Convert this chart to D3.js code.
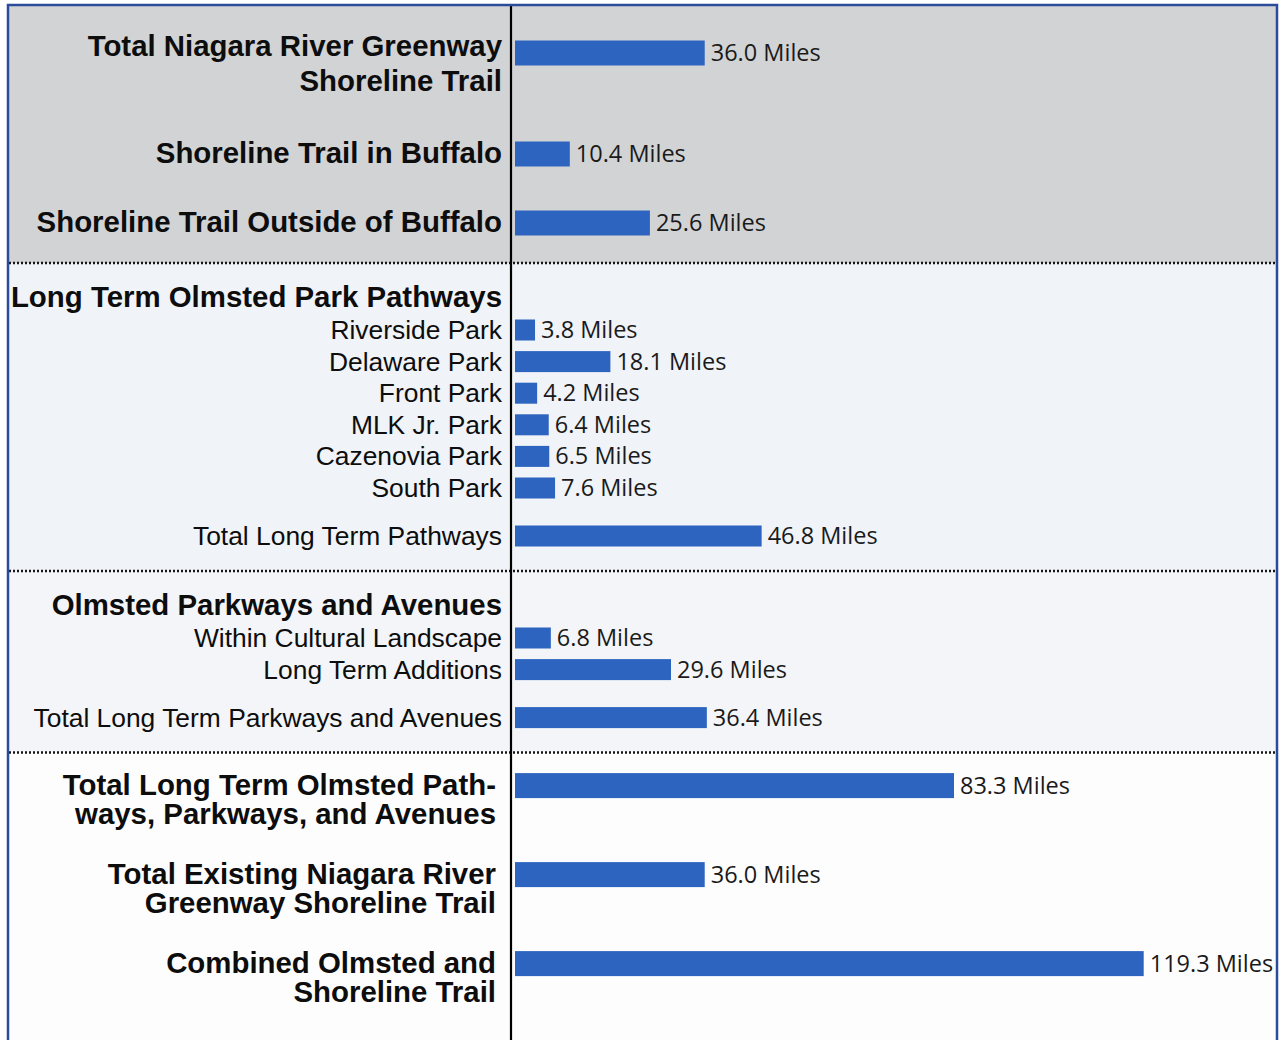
<!DOCTYPE html>
<html>
<head>
<meta charset="utf-8">
<script src="https://cdn.jsdelivr.net/npm/d3@7"></script>
<style>
  body { margin: 0; background: #fff; }
  svg { display: block; }
</style>
</head>
<body>
<div id="chart"></div>
<script>
// chart data
const categories = [
  "Total Niagara River Greenway\nShoreline Trail",
  "Shoreline Trail in Buffalo",
  "Shoreline Trail Outside of Buffalo",
  "Riverside Park",
  "Delaware Park",
  "Front Park",
  "MLK Jr. Park",
  "Cazenovia Park",
  "South Park",
  "Total Long Term Pathways",
  "Within Cultural Landscape",
  "Long Term Additions",
  "Total Long Term Parkways and Avenues",
  "Total Long Term Olmsted Path-\nways, Parkways, and Avenues",
  "Total Existing Niagara River\nGreenway Shoreline Trail",
  "Combined Olmsted and\nShoreline Trail"
];
const miles = [36.0, 10.4, 25.6, 3.8, 18.1, 4.2, 6.4, 6.5, 7.6, 46.8, 6.8, 29.6, 36.4, 83.3, 36.0, 119.3];
const sectionOf = [0, 0, 0, 1, 1, 1, 1, 1, 1, 1, 2, 2, 2, 3, 3, 3];
const rowKind = ["main", "main", "main", "sub", "sub", "sub", "sub", "sub", "sub", "total", "sub", "sub", "total", "main", "main", "main"];
const sectionHeaders = [null, "Long Term Olmsted Park Pathways", "Olmsted Parkways and Avenues", null];

const width = 1279, height = 1040;
const frame = { left: 8, right: 1277, top: 5 };
const axisX = 511;
const labelFont = "'Liberation Sans', Arial, Helvetica, sans-serif";
const valueFont = "'Open Sans', 'Noto Sans', sans-serif";
const sectionFill = ["#d2d3d5", "#f0f3f7", "#f3f5f8", "#fdfdfe"];
const lineHeight = [35, 0, 0, 29];
const barColor = "#2d64bf";

const svg = d3.select("#chart").append("svg")
  .attr("width", width)
  .attr("height", height);

// build rows and walk the layout top to bottom
const rows = categories.map((c, i) => ({
  label: c.split("\n"),
  value: miles[i],
  section: sectionOf[i],
  kind: rowKind[i]
}));

const dividers = [];
let cursor = frame.top;
const headerY = [];
rows.forEach((d, i) => {
  const prev = rows[i - 1];
  if (!prev) {
    cursor += 48;
  } else if (prev.section !== d.section) {
    cursor += prev.kind === "main" ? 40 : 35;
    dividers.push(cursor);
    if (sectionHeaders[d.section]) {
      headerY[d.section] = cursor + 44;
      cursor += 67;
    } else {
      cursor += 33;
    }
  } else if (d.kind === "total") {
    cursor += 48;
  } else if (d.kind === "sub") {
    cursor += 31.6;
  } else {
    cursor += Math.max(prev.label.length * lineHeight[d.section] + 31, 69);
  }
  d.y = cursor;
});

// section backgrounds
const bandTops = [frame.top].concat(dividers);
svg.selectAll("rect.band")
  .data(bandTops)
  .enter()
  .append("rect")
  .attr("class", "band")
  .attr("x", frame.left)
  .attr("y", d => d)
  .attr("width", frame.right - frame.left)
  .attr("height", (d, i) => (i < dividers.length ? bandTops[i + 1] : height) - d)
  .attr("fill", (d, i) => sectionFill[i]);

// dotted section lines
svg.selectAll("line.divider")
  .data(dividers)
  .enter()
  .append("line")
  .attr("class", "divider")
  .attr("x1", frame.left + 1)
  .attr("x2", frame.right - 1)
  .attr("y1", d => d)
  .attr("y2", d => d)
  .attr("stroke", "#151515")
  .attr("stroke-width", 2.5)
  .attr("stroke-dasharray", "2,2");

const xScale = d3.scaleLinear()
  .domain([0, 120])
  .range([axisX + 4, axisX + 4 + 120 * 5.27]);

const barH = d => d.kind === "main" ? 25 : 21;

svg.selectAll("rect.bar")
  .data(rows)
  .enter()
  .append("rect")
  .attr("class", "bar")
  .attr("x", xScale(0))
  .attr("y", d => d.y - barH(d) / 2)
  .attr("width", d => xScale(d.value) - xScale(0))
  .attr("height", barH)
  .attr("fill", barColor);

// value labels
svg.selectAll("text.value")
  .data(rows)
  .enter()
  .append("text")
  .attr("class", "value")
  .attr("x", d => xScale(d.value) + 6)
  .attr("y", d => d.y + 8)
  .attr("font-family", valueFont)
  .attr("font-size", 23.5)
  .attr("fill", "#1a1a1a")
  .text(d => d3.format(".1f")(d.value) + " Miles");

// category labels
const labels = svg.selectAll("text.label")
  .data(rows)
  .enter()
  .append("text")
  .attr("class", "label")
  .attr("text-anchor", "end")
  .attr("font-family", labelFont)
  .attr("font-weight", d => d.kind === "main" ? "bold" : "normal")
  .attr("font-size", d => d.kind === "main" ? 29.4 : 26.4)
  .attr("fill", "#0d0d0d");

labels.selectAll("tspan")
  .data(d => d.label.map((t, j) => ({ t, j, row: d })))
  .enter()
  .append("tspan")
  .attr("x", d => d.row.section === 3 ? 496 : 502)
  .attr("y", d => {
    const lh = lineHeight[d.row.section];
    return d.row.y + 9 - (d.row.label.length - 1) * (lh - 29) + d.j * lh;
  })
  .text(d => d.t);

// section headers
svg.selectAll("text.header")
  .data(sectionHeaders.map((h, i) => ({ h, y: headerY[i] })).filter(d => d.h))
  .enter()
  .append("text")
  .attr("class", "header")
  .attr("x", 502)
  .attr("y", d => d.y)
  .attr("text-anchor", "end")
  .attr("font-family", labelFont)
  .attr("font-weight", "bold")
  .attr("font-size", 29.4)
  .attr("fill", "#0d0d0d")
  .text(d => d.h);

// vertical axis line
svg.append("line")
  .attr("x1", axisX)
  .attr("x2", axisX)
  .attr("y1", frame.top)
  .attr("y2", height)
  .attr("stroke", "#000")
  .attr("stroke-width", 2.2);

// outer blue frame
svg.append("rect")
  .attr("x", frame.left)
  .attr("y", frame.top)
  .attr("width", frame.right - frame.left)
  .attr("height", height + 10)
  .attr("fill", "none")
  .attr("stroke", "#2b4b9b")
  .attr("stroke-width", 2.5);
</script>
</body>
</html>
